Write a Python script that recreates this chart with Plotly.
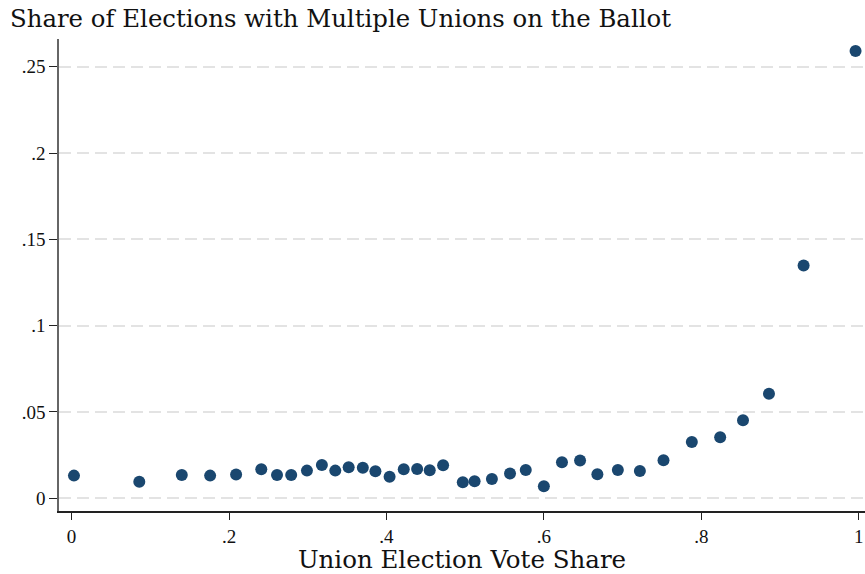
import plotly.graph_objects as go

vote_share = [0.003, 0.086, 0.140, 0.176, 0.209, 0.241, 0.261, 0.279, 0.299, 0.318,
              0.335, 0.352, 0.370, 0.386, 0.404, 0.422, 0.439, 0.455, 0.472, 0.497,
              0.512, 0.534, 0.557, 0.577, 0.600, 0.623, 0.646, 0.668, 0.694, 0.722,
              0.752, 0.788, 0.824, 0.853, 0.886, 0.930, 0.996]
multi_share = [0.0131, 0.0096, 0.0135, 0.0131, 0.0137, 0.0168, 0.0135, 0.0135, 0.0160, 0.0193,
               0.0160, 0.0180, 0.0176, 0.0156, 0.0125, 0.0168, 0.0170, 0.0162, 0.0191, 0.0093,
               0.0098, 0.0112, 0.0143, 0.0164, 0.0070, 0.0209, 0.0218, 0.0139, 0.0164, 0.0158,
               0.0220, 0.0326, 0.0353, 0.0452, 0.0606, 0.1348, 0.2592]

x_tickvals = [0, 0.2, 0.4, 0.6, 0.8, 1]
x_ticktext = ["0", ".2", ".4", ".6", ".8", "1"]
y_tickvals = [0, 0.05, 0.1, 0.15, 0.2, 0.25]
y_ticktext = ["0", ".05", ".1", ".15", ".2", ".25"]

FONT = "Liberation Serif"
TFONT = "DejaVu Serif"

fig = go.Figure()
fig.add_trace(go.Scatter(
    x=vote_share, y=multi_share, mode="markers",
    marker=dict(color="#1a476f", size=12, line=dict(width=0)),
    cliponaxis=False, showlegend=False,
))

fig.update_layout(
    width=865, height=574,
    margin=dict(l=59, r=0, t=39, b=63),
    paper_bgcolor="white", plot_bgcolor="white",
    font=dict(family=FONT, color="#111111"),
    title=dict(text="Share of Elections with Multiple Unions on the Ballot",
               x=10/865, xanchor="left", xref="container", y=1-18/574, yanchor="middle",
               yref="container",
               font=dict(family=TFONT, size=24.4, color="#111111")),
)
fig.update_xaxes(
    range=[-0.016, 1.008], tickvals=x_tickvals, ticktext=x_ticktext,
    showgrid=False, zeroline=False,
    showline=True, linecolor="#222222", linewidth=1.5,
    ticks="outside", ticklen=7, tickwidth=1.2, tickcolor="#222222",
    tickfont=dict(family=FONT, size=19, color="#111111"),
    title=dict(text="Union Election Vote Share", font=dict(family=TFONT, size=24.5, color="#111111"), standoff=6),
)
fig.update_yaxes(
    range=[-0.0074, 0.2661], tickvals=y_tickvals, ticktext=y_ticktext,
    showgrid=True, gridcolor="#e3e3e3", gridwidth=1.5, griddash="12px,6px",
    zeroline=False,
    showline=True, linecolor="#666666", linewidth=1.5,
    ticks="outside", ticklen=8, tickwidth=1.2, tickcolor="#222222",
    tickfont=dict(family=FONT, size=19, color="#111111"),
)

fig.write_html("out.html")
